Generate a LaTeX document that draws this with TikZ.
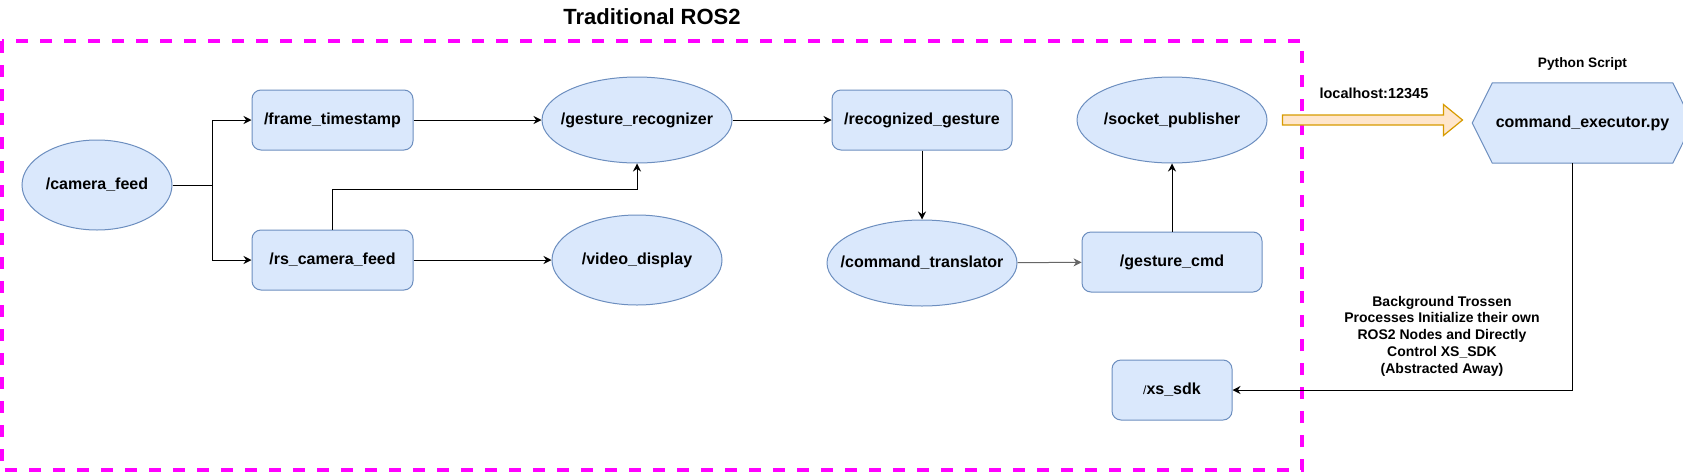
\documentclass[tikz,border=0pt]{standalone}
\usepackage{xcolor}
\usepackage{tikz}
\usepackage{fontspec}
\setmainfont{Liberation Sans}
\usetikzlibrary{positioning, shapes.geometric, arrows.meta, backgrounds}
\definecolor{nodefill}{HTML}{DAE8FC}
\definecolor{nodeline}{HTML}{6C8EBF}
\definecolor{rosmagenta}{HTML}{FF00FF}
\definecolor{sockfill}{HTML}{FFE6CC}
\definecolor{sockline}{HTML}{D79B00}
\newcommand{\rosfont}{\fontsize{16}{19}\selectfont\bfseries}
\tikzstyle{rosnode} = [ellipse, minimum width=190pt, minimum height=86pt, inner sep=0pt, line width=1pt, draw=nodeline, fill=nodefill, font=\rosfont, execute at begin node={\hbox to 0pt\bgroup\hss}, execute at end node={\hss\egroup}]
\tikzstyle{topic} = [rectangle, rounded corners=9pt, minimum width=180pt, minimum height=60pt, inner sep=0pt, line width=1pt, draw=nodeline, fill=nodefill, font=\rosfont]
\tikzstyle{arrow} = [line width=1pt, -{Stealth[length=8pt,width=8pt]}]
\tikzstyle{bigarrow} = [draw=sockline, fill=sockfill, line width=1.2pt, line join=miter]
\tikzstyle{rosbox} = [draw=rosmagenta, line width=4pt, dash pattern=on 12pt off 12pt]
\tikzstyle{note} = [align=center, font=\fontsize{14}{16.8}\selectfont\bfseries]

\begin{document}
\begin{tikzpicture}[x=1pt, y=-1pt]
	\useasboundingbox (0,0) rectangle (1683,472);
	\node (title) at (652,17) {\fontsize{22}{26}\selectfont\bfseries Traditional ROS2};
	\draw [rosbox] (2,41) rectangle (1302,470);

	\node (camfeed) [rosnode, minimum width=150pt, minimum height=90pt] at (97,185) {/camera\_feed};
	\node (frame) [topic, minimum width=161pt] at (332.5,120) {/frame\_timestamp};
	\node (rsfeed) [topic, minimum width=161pt, below of=frame, node distance=140pt] {/rs\_camera\_feed};
	\node (gestrec) [rosnode, right of=frame, node distance=304.5pt] {/gesture\_recognizer};
	\node (video) [rosnode, minimum width=170pt, minimum height=90pt, below of=gestrec, node distance=140pt] {/video\_display};
	\node (recog) [topic, right of=gestrec, node distance=285pt] {/recognized\_gesture};
	\node (cmdtr) [rosnode, below of=recog, node distance=143pt] {/command\_translator};
	\node (sock) [rosnode, right of=recog, node distance=250pt] {/socket\_publisher};
	\node (gcmd) [topic, below of=sock, node distance=142pt] {/gesture\_cmd};
	\node (xssdk) [topic, minimum width=120pt, below of=gcmd, node distance=128pt] {{\fontsize{12}{14}\selectfont\mdseries/}xs\_sdk};

	\node (exec) [rectangle, minimum width=161pt, minimum height=80pt, font=\rosfont] at (1582.5,123) {command\_executor.py};
	\begin{scope}[on background layer]
		\draw [draw=nodeline, fill=nodefill, line width=1pt] ([xshift=-20pt]exec.west) -- (exec.north west) -- (exec.north east) -- ([xshift=20pt]exec.east) -- (exec.south east) -- (exec.south west) -- cycle;
	\end{scope}
	\node (pyscript) [above of=exec, node distance=59pt, font=\fontsize{13.7}{16}\selectfont\bfseries] {Python Script};
	\node (port) [anchor=west, font=\fontsize{14.5}{17}\selectfont\bfseries] at (1316,93) {localhost:12345};
	\node (trossen) [note] at (1442,336) {Background Trossen\\Processes Initialize their own\\ROS2 Nodes and Directly\\Control XS\_SDK\\(Abstracted Away)};

	\draw [arrow] (camfeed.east) -- ++(40,0) |- (frame.west);
	\draw [arrow] (camfeed.east) -- ++(40,0) |- (rsfeed.west);
	\draw [arrow] (frame) -- (gestrec);
	\draw [arrow] (rsfeed.north) -- ++(0,-40) -| (gestrec.south);
	\draw [arrow] (rsfeed) -- (video);
	\draw [arrow] (gestrec) -- (recog);
	\draw [arrow] (recog) -- (cmdtr);
	\draw [arrow, draw=black!60] (cmdtr) -- (gcmd);
	\draw [arrow] (gcmd) -- (sock);
	\draw [bigarrow] (sock.east) ++(15,-5) -- ++(161,0) -- ++(0,-10.5) -- ++(19,15.5) -- ++(-19,15.5) -- ++(0,-10.5) -- ++(-161,0) -- cycle;
	\draw [arrow] ([xshift=-10pt]exec.south) |- (xssdk.east);

\end{tikzpicture}
\end{document}
